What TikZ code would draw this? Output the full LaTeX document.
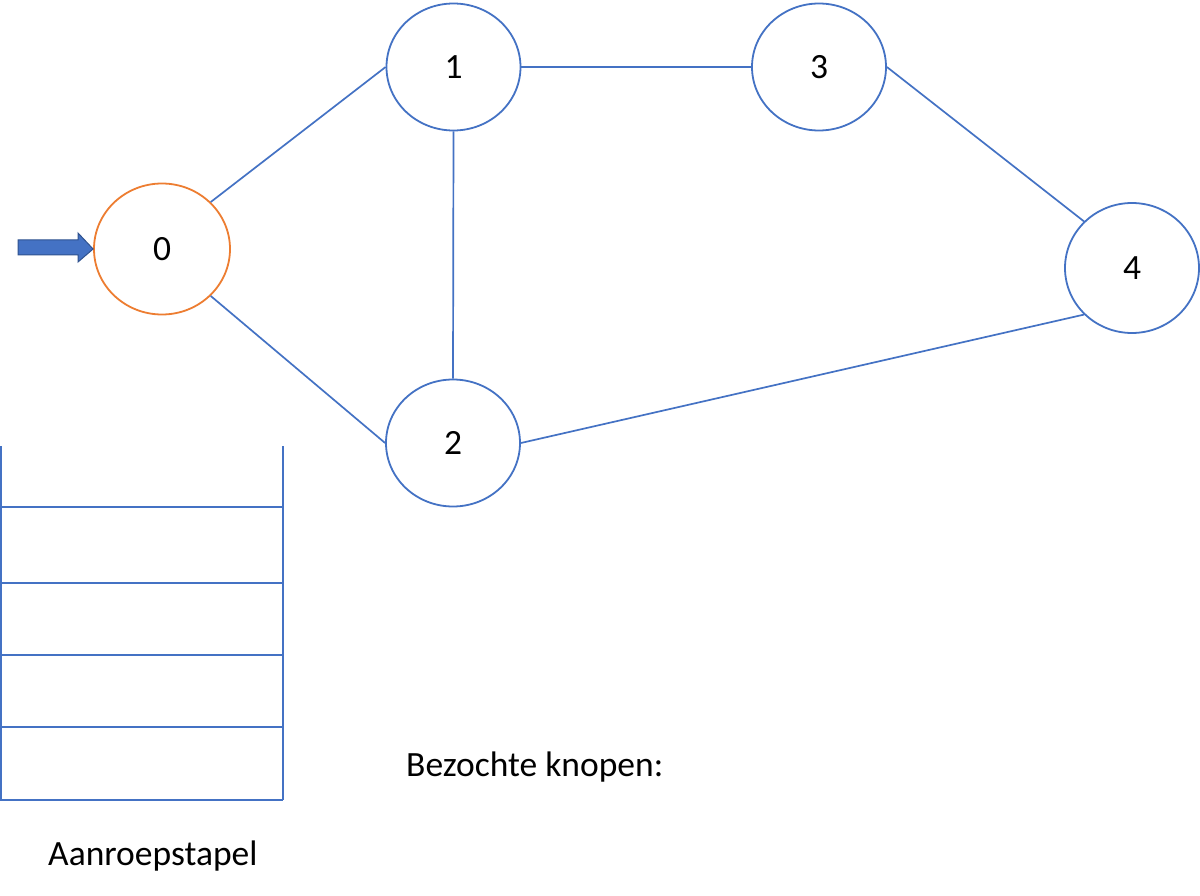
\documentclass[tikz,border=0pt]{standalone}
\usepackage{fontspec}
\setmainfont{Carlito}
\usetikzlibrary{shapes.geometric}
\definecolor{nodeblue}{HTML}{4472C4}
\definecolor{nodeorange}{HTML}{ED7D31}
\definecolor{arrowedge}{HTML}{2F528F}
\begin{document}
\begin{tikzpicture}[x=1pt,y=-1pt,
  vert/.style={ellipse, draw=nodeblue, line width=1.8pt, inner sep=0pt,
    minimum width=134pt, minimum height=127pt, font=\fontsize{35.5}{40}\selectfont},
  edge/.style={draw=nodeblue, line width=1.7pt},
  stackline/.style={draw=nodeblue, line width=2.2pt},
  lbl/.style={font=\fontsize{35.5}{40}\selectfont, inner sep=0pt, anchor=base west}]
\useasboundingbox (0,0) rectangle (1200,896);
\fill[white] (0,0) rectangle (1200,896);
\node[vert, draw=nodeorange, minimum width=136pt, minimum height=131pt] (n0) at (162,249) {0};
\node[vert] (n1) at (453.5,67) {1};
\node[vert] (n3) at (819,67) {3};
\node[vert, minimum height=130pt] (n4) at (1132,268) {4};
\node[vert] (n2) at (453,443) {2};
\draw[edge] (n0.north east) -- (n1.west);
\draw[edge] (n0.south east) -- (n2.west);
\draw[edge] (n1.south) -- (n2.north);
\draw[edge] (n1.east) -- (n3.west);
\draw[edge] (n3.east) -- (n4.north west);
\draw[edge] (n2.east) -- (n4.south west);
% entry arrow
\draw[fill=nodeblue, draw=arrowedge, line width=1pt]
  (18,240) -- (78,240) -- (78,233) -- (n0.west) -- (78,262) -- (78,255) -- (18,255) -- cycle;
% call stack
\draw[stackline] (1,446) -- (1,800);
\draw[stackline] (283,446) -- (283,800);
\foreach \yy in {507,583,655,727,800}
  \draw[stackline] (0,\yy) -- (283,\yy);
\node[lbl] (visited) at (406,776) {Bezochte knopen:};
\node[lbl] (stacklbl) at (48,865) {Aanroepstapel};
\end{tikzpicture}
\end{document}
